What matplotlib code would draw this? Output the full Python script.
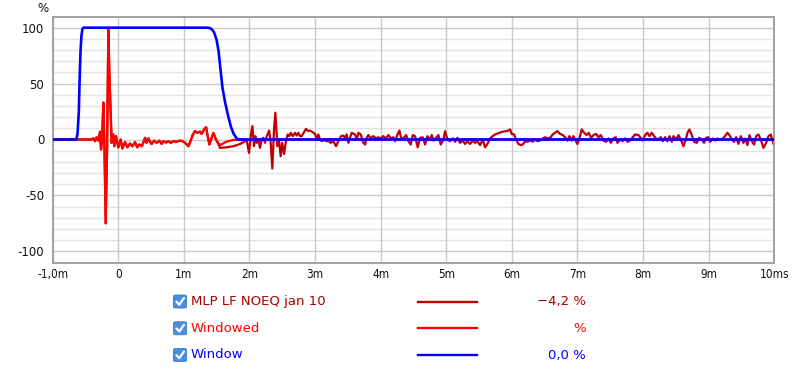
import numpy as np
import matplotlib
matplotlib.use("Agg")
import matplotlib.pyplot as plt
from matplotlib.lines import Line2D
from matplotlib.patches import FancyBboxPatch

# ---------------- data ----------------
# measured impulse response (ms, %)
meas_t = [-1.0, -0.64, -0.405, -0.38, -0.354, -0.33, -0.303, -0.29, -0.277, -0.262, -0.245,
          -0.227, -0.21, -0.191, -0.17, -0.15, -0.135, -0.125, -0.10, -0.075, -0.059, -0.035,
          0.002, 0.037, 0.063, 0.104, 0.14, 0.18, 0.216, 0.256, 0.29, 0.32, 0.36, 0.41, 0.43,
          0.46, 0.485, 0.51, 0.546, 0.586, 0.627, 0.663, 0.688, 0.729, 0.764, 0.80, 0.84, 0.89,
          0.94, 0.98, 1.02, 1.07, 1.105, 1.135, 1.17, 1.206, 1.247, 1.272, 1.308, 1.339, 1.359,
          1.39, 1.425, 1.45, 1.49, 1.527, 1.552, 1.654, 1.755, 1.86, 1.958, 1.994, 2.02, 2.045,
          2.07, 2.09, 2.11, 2.136, 2.161, 2.187, 2.212, 2.237, 2.263, 2.288, 2.30, 2.324, 2.349,
          2.375, 2.395, 2.426, 2.45, 2.476, 2.50, 2.527, 2.557, 2.583, 2.608, 2.629, 2.66, 2.695,
          2.72, 2.746, 2.771, 2.796, 2.832, 2.862, 2.898, 2.923, 2.964, 3.0, 3.025, 3.05, 3.076,
          3.10, 3.137, 3.177, 3.213, 3.238, 3.28, 3.32, 3.355, 3.396, 3.43, 3.457, 3.482, 3.508,
          3.559, 3.61, 3.636, 3.661, 3.697, 3.737, 3.763, 3.788, 3.813, 3.849, 3.89, 3.93, 3.966,
          4.0, 4.042, 4.078, 4.118, 4.154, 4.195, 4.22, 4.256, 4.286, 4.311, 4.347, 4.388, 4.423,
          4.459, 4.489, 4.525, 4.565, 4.601, 4.642, 4.677, 4.713, 4.753, 4.779, 4.804, 4.845,
          4.88, 4.916, 4.957, 4.982, 5.018, 5.058, 5.099, 5.135, 5.17, 5.211, 5.251, 5.287,
          5.322, 5.363, 5.404, 5.44, 5.475, 5.516, 5.556, 5.592, 5.627, 5.668, 5.709, 5.744,
          5.81, 5.861, 5.912, 5.947, 5.973, 5.998, 6.034, 6.064, 6.1, 6.135, 6.166, 6.202, 6.237,
          6.278, 6.318, 6.354, 6.39, 6.43, 6.471, 6.506, 6.542, 6.583, 6.623, 6.659, 6.694,
          6.735, 6.776, 6.811, 6.847, 6.877, 6.913, 6.938, 6.964, 6.999, 7.03, 7.065, 7.101,
          7.142, 7.172, 7.208, 7.243, 7.284, 7.32, 7.355, 7.396, 7.436, 7.472, 7.507, 7.548,
          7.584, 7.609, 7.65, 7.69, 7.726, 7.761, 7.802, 7.843, 7.878, 7.929, 7.954, 7.995,
          8.031, 8.066, 8.097, 8.132, 8.168, 8.198, 8.234, 8.27, 8.3, 8.336, 8.371, 8.402,
          8.437, 8.463, 8.503, 8.539, 8.574, 8.615, 8.656, 8.676, 8.706, 8.742, 8.778, 8.818,
          8.854, 8.894, 8.93, 8.96, 8.996, 9.021, 9.062, 9.098, 9.133, 9.174, 9.215, 9.25,
          9.286, 9.316, 9.352, 9.387, 9.418, 9.453, 9.489, 9.53, 9.555, 9.59, 9.621, 9.657,
          9.692, 9.723, 9.758, 9.794, 9.835, 9.875, 9.911, 9.946, 9.987]
meas_v = [0, 0, 0, 1, -1.5, 2, -1, 3, 7, -9, 0,
          33, -6, -75, -10, 100, 60, 42, -3, 4.5, -6, 3,
          -7, 0, -8, -2.4, -7, -3.6, -6, -2.4, -7, -4.5, -6, 1.5, -3,
          1, -2, -4, -1, -3, -1, -4, -1.5, -2.7, -1.5, -3, -1.5, -2,
          -1, -1.5, -3, -6, -1, 4, 7.5, 6, 7, 5, 9, 11, 4.5,
          -4.5, 1.5, 6, 0, -4, -7.5, -7, -6, -4, -0.6, -12, 3, 12,
          -6, 3, -3, 0, -7.5, 0, 1.5, -3, 3, 6, 8, -3, -26,
          9, 24, -6, 0, -15, -3, -13, -1.5, 4.5, 3, 6, 3, 6,
          3.5, 6, 3, 3, 6.5, 9.5, 7.5, 8, 6.5, 5, 0.5, 4.5, 0,
          -1.5, -0.6, -1.5, -1.5, -3, -1.5, -6, -1.5, 3, 3.5, 1.5, 4.5, -3,
          6, 4.5, 0, 6, 4.5, -3, -4.5, 1.5, 4, 1, 3, 1, 2,
          1, 3, 1, 4, 1, 2, -1.5, 4.5, 8, 1.5, 1, 4, -1.5,
          -4.5, 4, 3, -7, 1.5, 2, -4.5, 3, 0, 4, -1, 1.5,
          4, -4.5, 0, 7.5, 0, -1.5, 1, -2, 1.5, -3, -1, -4,
          -1.5, -4, -1, -3, -1.5, -5, 0, -7, -4, 1, 3, 4.5,
          6, 7, 7.5, 8, 9, 5, 4.5, 0, -4, -5, -4.5, -1.5, -2,
          -0.9, -2, 0, -1.5, -0.9, 1, 2, 1, 1.5, 4.5, 6, 7.5,
          5, 4, 2, -1, 3, -1, 3, 0, -4, 1, 9, 6,
          4, 6, 1.5, 4, 5, 2, 4, -1, -2, 1, -3, 1,
          2, -3, 0, -1.5, 1, -2, -0.9, 2, 4.5, 4, 2.1, -0.9,
          3.9, 6, 3, 6, 3, 0.9, 0, 2.1, -1.5, 2.1, -1.5, 3,
          -2.1, 3, 0, 3.9, 0, -6, 0.9, 6, 9, 3.9, -2.1, -3,
          1.5, 0, -3, 1.5, 2.1, -2.1, 0.9, -0.9, 0.9, 0, 0.9, 3,
          6, 3.9, 0, -2.1, 2.1, -3.9, 3, -3, 0.9, -5, 3.9, -1.5,
          -4.5, 3, 4.5, 0, -7.5, -3, 3, 4.5, -3.9]

# time window (ms, %)
win_t = [-1.0, -0.64, -0.62, -0.60, -0.59, -0.575, -0.56, -0.545, -0.53,
         1.375, 1.42, 1.46, 1.50, 1.53, 1.56, 1.59, 1.63, 1.68, 1.72, 1.76, 1.80, 1.83, 10.0]
win_v = [0, 0, 5, 25, 50, 78, 93, 99, 100,
         100, 99, 96, 89, 79, 62, 46, 33, 20, 11, 5, 1.5, 0, 0]

x_ticks = list(range(-1, 11))
x_labels = ["-1,0m", "0", "1m", "2m", "3m", "4m", "5m", "6m", "7m", "8m", "9m", "10ms"]
y_ticks = [-100, -50, 0, 50, 100]
y_labels = ["-100", "-50", "0", "50", "100"]

legend_names = ["MLP LF NOEQ jan 10", "Windowed", "Window"]
legend_values = ["\u22124,2 %", "%", "0,0 %"]
line_colors = ["#c00000", "#ff0000", "#0000ff"]
text_colors = ["#a80000", "#ff0000", "#0000ff"]

# ---------------- figure ----------------
W, H = 800, 372
fig = plt.figure(figsize=(W / 100, H / 100), dpi=100)
fig.patch.set_facecolor("white")

def fx(px):
    return px / W

def fy(py):
    return 1 - py / H

left, right, top, bottom = 52.6, 774.3, 16.5, 262.5
ax = fig.add_axes([fx(left), fy(bottom), fx(right - left), (bottom - top) / H])
ax.set_xlim(-1, 10)
ax.set_ylim(-110, 110)

# grid
for yv in range(-100, 101, 10):
    if yv % 50 == 0:
        ax.axhline(yv, color="#c8c8c8", lw=1.0, zorder=0)
    else:
        ax.axhline(yv, color="#e3e3e3", lw=1.0, zorder=0)
for xv in x_ticks:
    ax.axvline(xv, color="#c8c8c8", lw=1.0, zorder=0)

mt = np.array(meas_t)
mv = np.array(meas_v)
window_at_meas = np.interp(mt, win_t, win_v) / 100.0
windowed_v = mv * window_at_meas

ax.plot(mt, mv, color=line_colors[0], lw=1.6, zorder=2, solid_joinstyle="round")
ax.plot(mt, windowed_v, color=line_colors[1], lw=1.6, zorder=3, solid_joinstyle="round")
ax.plot(win_t, win_v, color=line_colors[2], lw=1.9, zorder=4, solid_joinstyle="round")

ax.set_xticks(x_ticks)
ax.set_xticklabels(x_labels)
ax.set_yticks(y_ticks)
ax.set_yticklabels(y_labels)
ax.tick_params(length=0, labelsize=8.5, colors="#111111", pad=6)
ax.tick_params(axis="x", pad=4)
for lab in ax.get_xticklabels():
    lab.set_fontstretch("condensed")
for sp in ax.spines.values():
    sp.set_color("#a0a0a0")
    sp.set_linewidth(1.4)

fig.text(fx(42.7), fy(8), "%", ha="center", va="center", fontsize=8.5, color="#111111")

# legend rows
row_y = [301.5, 328.3, 355.0]
for i in range(3):
    yc = row_y[i]
    box = FancyBboxPatch((fx(173.5), fy(yc + 6.5)), fx(13), 13 / H,
                         boxstyle="round,pad=0,rounding_size=0.003",
                         transform=fig.transFigure, facecolor="#4a90e2",
                         edgecolor="#3a78c8", lw=0.6)
    fig.patches.append(box)
    fig.lines.append(Line2D([fx(176.5), fx(179.3), fx(184)],
                            [fy(yc + 0.2), fy(yc + 3.2), fy(yc - 3.5)],
                            transform=fig.transFigure, color="white", lw=1.6,
                            solid_capstyle="round", solid_joinstyle="round"))
    fig.text(fx(191), fy(yc), legend_names[i], ha="left", va="center",
             fontsize=9.5, color=text_colors[i])
    fig.lines.append(Line2D([fx(418), fx(477)], [fy(yc), fy(yc)],
                            transform=fig.transFigure, color=line_colors[i], lw=1.7))
    fig.text(fx(586), fy(yc), legend_values[i], ha="right", va="center",
             fontsize=9.5, color=text_colors[i])

fig.savefig("out.png", dpi=100, facecolor="white")
